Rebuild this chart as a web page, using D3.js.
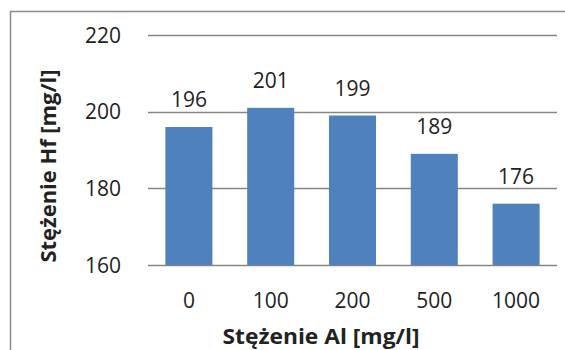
<!DOCTYPE html>
<html>
<head>
<meta charset="utf-8">
<script src="https://cdn.jsdelivr.net/npm/d3@7"></script>
<style>
  body { margin: 0; background: #fff; }
  text { font-family: "Open Sans", "Liberation Sans", sans-serif; fill: #222; }
</style>
</head>
<body>
<svg id="chart" width="565" height="350"></svg>
<script>
let categories = ["0", "100", "200", "500", "1000"]
let values = [196, 201, 199, 189, 176]
let yTicks = [160, 180, 200, 220]
let xTitle = "Stężenie Al [mg/l]"
let yTitle = "Stężenie Hf [mg/l]"

let svg = d3.select("#chart")

// outer chart frame (runs off the right/bottom edge like the source)
svg.append("rect")
    .attr("x", 10.5).attr("y", 11.5)
    .attr("width", 600).attr("height", 400)
    .attr("fill", "#fff")
    .attr("stroke", "#8c8c8c")
    .attr("stroke-width", 1.5)

let plot = { left: 148, right: 557, top: 35, bottom: 265 }

let x = d3.scaleBand()
    .domain(categories)
    .range([plot.left, plot.right])
    .paddingInner(0.425)
    .paddingOuter(0.2125)

let y = d3.scaleLinear()
    .domain([160, 220])
    .range([plot.bottom, plot.top])

// gridlines
svg.append("g")
    .selectAll("line")
    .data(yTicks)
    .join("line")
    .attr("x1", plot.left).attr("x2", plot.right)
    .attr("y1", d => Math.round(y(d)) + 0.5)
    .attr("y2", d => Math.round(y(d)) + 0.5)
    .attr("stroke", "#868686")
    .attr("stroke-width", 1.3)

// y tick labels
svg.append("g")
    .selectAll("text")
    .data(yTicks)
    .join("text")
    .attr("x", 121)
    .attr("y", d => y(d))
    .attr("dy", "0.36em")
    .attr("text-anchor", "end")
    .attr("font-size", 21)
    .text(d => d)

// bars
svg.append("g")
    .selectAll("rect")
    .data(values)
    .join("rect")
    .attr("x", (d, i) => x(categories[i]))
    .attr("width", x.bandwidth())
    .attr("y", d => y(d))
    .attr("height", d => y(160) - y(d))
    .attr("fill", "#4f81bd")

// data labels
svg.append("g")
    .selectAll("text")
    .data(values)
    .join("text")
    .attr("x", (d, i) => x(categories[i]) + x.bandwidth() / 2)
    .attr("y", d => y(d) - 20)
    .attr("text-anchor", "middle")
    .attr("font-size", 21)
    .text(d => d)

// x tick labels
svg.append("g")
    .selectAll("text")
    .data(categories)
    .join("text")
    .attr("x", d => x(d) + x.bandwidth() / 2)
    .attr("y", 308)
    .attr("text-anchor", "middle")
    .attr("font-size", 21)
    .text(d => d)

// axis titles (the source crops the x title at the bottom edge too)
svg.append("text")
    .attr("x", 321)
    .attr("y", 344)
    .attr("text-anchor", "middle")
    .attr("font-size", 21)
    .attr("font-weight", "bold")
    .attr("textLength", 197)
    .attr("lengthAdjust", "spacingAndGlyphs")
    .text(xTitle)

svg.append("text")
    .attr("transform", "translate(56,166) rotate(-90)")
    .attr("text-anchor", "middle")
    .attr("font-size", 21)
    .attr("font-weight", "bold")
    .attr("textLength", 193)
    .attr("lengthAdjust", "spacingAndGlyphs")
    .text(yTitle)
</script>
</body>
</html>
